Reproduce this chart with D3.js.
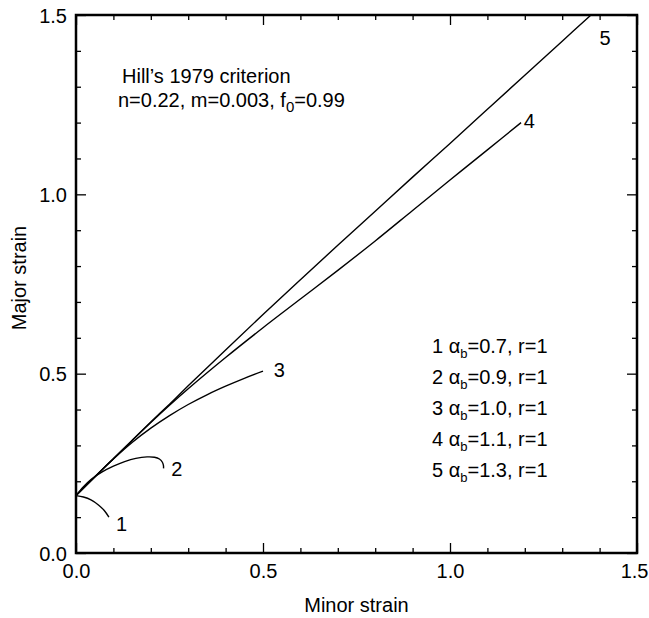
<!DOCTYPE html>
<html>
<head>
<meta charset="utf-8">
<script src="https://cdn.jsdelivr.net/npm/d3@7"></script>
<style>
  body { margin: 0; background: #fff; }
  svg text { font-family: "Liberation Sans", Arial, Helvetica, sans-serif; fill: #000; }
  .axis path { display: none; }
  .axis line { stroke: #000; stroke-width: 1.3px; }
</style>
</head>
<body>
<div id="chart"></div>
<script>
// minor strain / major strain pairs
const curve1 = [[0, 0.16], [0.02, 0.156], [0.04, 0.148], [0.06, 0.134], [0.075, 0.119], [0.088, 0.1]];
const curve2 = [[0, 0.16], [0.02, 0.185], [0.04, 0.205], [0.07, 0.226], [0.1, 0.242], [0.13, 0.255],
  [0.16, 0.264], [0.19, 0.268], [0.21, 0.267], [0.223, 0.262], [0.231, 0.253], [0.234, 0.243], [0.234, 0.236]];
const curve3 = [[0, 0.16], [0.05, 0.212], [0.1, 0.262], [0.15, 0.308], [0.2, 0.348], [0.25, 0.383],
  [0.3, 0.414], [0.35, 0.441], [0.4, 0.465], [0.45, 0.487], [0.5, 0.507]];
const curve4 = [[0, 0.16], [0.05, 0.212], [0.1, 0.263], [0.15, 0.314], [0.2, 0.364], [0.25, 0.412],
  [0.3, 0.458], [0.4, 0.545], [0.5, 0.628], [0.6, 0.708], [0.7, 0.788], [0.8, 0.87], [0.9, 0.955],
  [1.0, 1.04], [1.1, 1.124], [1.19, 1.2]];
const curve5 = [[0, 0.16], [0.05, 0.212], [0.1, 0.263], [0.15, 0.314], [0.2, 0.365], [0.25, 0.415],
  [0.3, 0.466], [0.4, 0.566], [0.5, 0.665], [0.6, 0.762], [0.7, 0.858], [0.8, 0.953], [0.9, 1.048],
  [1.0, 1.142], [1.1, 1.237], [1.2, 1.332], [1.3, 1.427], [1.377, 1.5]];

const curveLabels = ["1", "2", "3", "4", "5"];
const alphaB = ["0.7", "0.9", "1.0", "1.1", "1.3"];
const majorTicks = [0, 0.5, 1.0, 1.5];
const tickLabels = ["0.0", "0.5", "1.0", "1.5"];

const W = 649, H = 618;
const margin = { top: 15, right: 12, bottom: 65, left: 76 };
const iw = W - margin.left - margin.right;
const ih = H - margin.top - margin.bottom;

const svg = d3.select("#chart").append("svg").attr("width", W).attr("height", H);
const g = svg.append("g").attr("transform", `translate(${margin.left},${margin.top})`);

const x = d3.scaleLinear().domain([0, 1.5]).range([0, iw]);
const y = d3.scaleLinear().domain([0, 1.5]).range([ih, 0]);

const minorTicks = d3.range(0, 16).map(i => i / 10).filter(v => Math.abs(v * 2 - Math.round(v * 2)) > 1e-6);

// ticks point inwards on all four sides
function addAxis(axisFn, scale, transform, values, size, labels) {
  const ax = axisFn(scale).tickValues(values).tickSizeInner(-size).tickSizeOuter(0).tickPadding(size + 9);
  ax.tickFormat(labels ? (d, i) => labels[i] : () => "");
  const sel = g.append("g").attr("class", "axis").attr("transform", transform).call(ax);
  sel.selectAll("text").style("font-size", "20px");
  return sel;
}
addAxis(d3.axisBottom, x, `translate(0,${ih})`, minorTicks, 5, null);
const xMajor = addAxis(d3.axisBottom, x, `translate(0,${ih})`, majorTicks, 10, tickLabels);
addAxis(d3.axisTop, x, "translate(0,0)", minorTicks, 5, null);
addAxis(d3.axisTop, x, "translate(0,0)", majorTicks, 10, null);
addAxis(d3.axisLeft, y, "translate(0,0)", minorTicks, 5, null);
const yMajor = addAxis(d3.axisLeft, y, "translate(0,0)", majorTicks, 10, tickLabels);
addAxis(d3.axisRight, y, `translate(${iw},0)`, minorTicks, 5, null);
addAxis(d3.axisRight, y, `translate(${iw},0)`, majorTicks, 10, null);

g.selectAll(".axis text").attr("dy", null);
xMajor.selectAll("text").attr("y", 25);
// last label sits against the page edge, as in the original
xMajor.selectAll("text").filter(d => d === 1.5).attr("text-anchor", "end").attr("x", W - 1 - margin.left - iw);
yMajor.selectAll("text").attr("x", -9).attr("dy", "0.35em");

g.append("rect").attr("width", iw).attr("height", ih)
  .attr("fill", "none").attr("stroke", "#000").attr("stroke-width", 2.5);

const line = d3.line().x(d => x(d[0])).y(d => y(d[1])).curve(d3.curveCatmullRom.alpha(0.5));
[curve1, curve2, curve3, curve4, curve5].forEach(c => {
  g.append("path").datum(c).attr("d", line)
    .attr("fill", "none").attr("stroke", "#000").attr("stroke-width", 1.4);
});

// curve number labels near each end
const labelPos = [[0.107, 0.06], [0.255, 0.215], [0.529, 0.491], [1.197, 1.185], [1.4, 1.415]];
labelPos.forEach((p, i) => {
  g.append("text").attr("x", x(p[0])).attr("y", y(p[1]))
    .style("font-size", "20px").text(curveLabels[i]);
});

// title block
g.append("text").attr("x", 46).attr("y", 68).style("font-size", "20px").text("Hill\u2019s 1979 criterion");
const t2 = g.append("text").attr("x", 42).attr("y", 92).style("font-size", "20px");
t2.append("tspan").text("n=0.22, m=0.003, f");
t2.append("tspan").attr("dy", 5).style("font-size", "15px").text("0");
t2.append("tspan").attr("dy", -5).text("=0.99");

// legend
alphaB.forEach((a, i) => {
  const t = g.append("text").attr("x", 356).attr("y", 338 + i * 31).style("font-size", "20px");
  t.append("tspan").text(curveLabels[i] + " \u03b1");
  t.append("tspan").attr("dy", 5).style("font-size", "13px").text("b");
  t.append("tspan").attr("dy", -5).text("=" + a + ", r=1");
});

// axis titles
g.append("text").attr("x", iw / 2).attr("y", ih + 59).attr("text-anchor", "middle")
  .style("font-size", "20px").text("Minor strain");
g.append("text").attr("transform", `translate(${-50},${ih / 2 - 6}) rotate(-90)`)
  .attr("text-anchor", "middle").style("font-size", "20px").text("Major strain");
</script>
</body>
</html>
